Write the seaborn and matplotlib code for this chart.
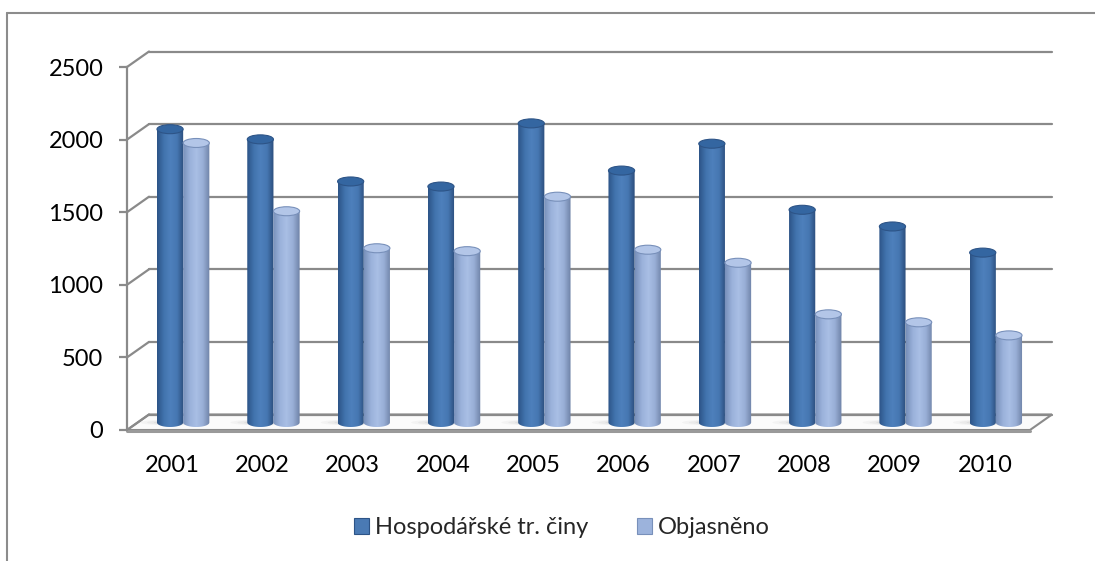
import numpy as np
import pandas as pd
import matplotlib
matplotlib.use("Agg")
import matplotlib.pyplot as plt
import matplotlib.transforms as mtransforms
from matplotlib.patches import Ellipse, Polygon, Patch
from matplotlib.path import Path
from matplotlib.lines import Line2D
import seaborn as sns

# values
years = ['2001', '2002', '2003', '2004', '2005', '2006', '2007', '2008', '2009', '2010']
hospodarske = [2020, 1950, 1660, 1625, 2060, 1735, 1920, 1465, 1350, 1170]
objasneno = [1925, 1455, 1200, 1180, 1555, 1190, 1100, 745, 690, 600]
series = ['Hospodářské tr. činy', 'Objasněno']
yticks = [0, 500, 1000, 1500, 2000, 2500]

df = pd.DataFrame({
    'rok': years * 2,
    'pocet': hospodarske + objasneno,
    'serie': [series[0]] * len(years) + [series[1]] * len(years),
})

sns.set_theme(style='white')
plt.rcParams['font.family'] = ['Lato', 'DejaVu Sans']

W, H = 1095, 561
fig = plt.figure(figsize=(W / 100, H / 100), dpi=100)
ax = fig.add_axes([127 / W, 1 - 430 / H, (1030 - 127) / W, (430 - 67) / H])

dark = '#4a7ab4'
light = '#9cb3dc'
sns.barplot(data=df, x='rok', y='pocet', hue='serie', palette=[dark, light],
            width=0.58, gap=0, legend=False, ax=ax, zorder=3)
bars = list(ax.patches)
ax.set_xlim(-0.5, 9.5)
ax.set_ylim(0, 2500)

# 3d look: bars stand in the middle of the floor, back wall further back
ppi = fig.dpi
mid_off = mtransforms.ScaledTranslation(11 / ppi, 7.5 / ppi, fig.dpi_scale_trans)
back_off = mtransforms.ScaledTranslation(22 / ppi, 15.5 / ppi, fig.dpi_scale_trans)
bar_tr = ax.transData + mid_off
back_tr = ax.transData + back_off

def disp(x, y, dx=0, dy=0):
    px, py = ax.transData.transform((x, y))
    return px + dx, py + dy

ident = mtransforms.IdentityTransform()
grid_c = '#8a8a8a'

# floor
fl = [disp(-0.5, 0), disp(9.5, 0), disp(9.5, 0, 22, 15.5), disp(-0.5, 0, 22, 15.5)]
ax.add_patch(Polygon(fl, closed=True, transform=ident, facecolor='#fbfbfb',
                     edgecolor=grid_c, lw=1.5, zorder=1, clip_on=False))
a, b = disp(-0.5, 0), disp(9.5, 0)
ax.plot([a[0], b[0]], [a[1] - 1, b[1] - 1], color='#9a9a9a', lw=2.2,
        transform=ident, zorder=1.2, clip_on=False)

# soft shadows on the floor, to the left of each pair of bars
for k in range(len(years)):
    for j, al in enumerate([0.05, 0.06, 0.08]):
        ax.add_patch(Ellipse((k - 0.1, 0), 0.75 - 0.15 * j, 40 - 8 * j,
                             transform=bar_tr, facecolor='#606060', alpha=al,
                             edgecolor='none', zorder=1.5, clip_on=False))

# back wall gridlines with diagonals to the front axis
for v in yticks:
    ax.plot([-0.5, 9.5], [v, v], color=grid_c, lw=1.6, transform=back_tr,
            zorder=1, clip_on=False)
    a = disp(-0.5, v)
    b = disp(-0.5, v, 22, 15.5)
    ax.plot([a[0], b[0]], [a[1], b[1]], color=grid_c, lw=1.6, transform=ident,
            zorder=1, clip_on=False)

# cylinders
grad_dark = ['#2d5487', '#4173ad', '#4e80bc', '#4677b2', '#2c4e7c']
grad_light = ['#7890ba', '#9ab1da', '#a9bfe5', '#98aed6', '#6f82a7']
cap_dark = '#3466a1'
cap_light = '#b3c6e8'
cap_h = 9 * 2500 / 363

for i, p in enumerate(bars):
    x0, w, h = p.get_x(), p.get_width(), p.get_height()
    is_dark = i < len(years)
    cols = grad_dark if is_dark else grad_light
    p.set_visible(False)
    # outline of the cylinder: straight sides and a rounded bottom
    t = np.linspace(np.pi, 2 * np.pi, 30)
    bx = x0 + w / 2 + np.cos(t) * w / 2
    by = np.sin(t) * cap_h / 2
    verts = [(x0, h)] + list(zip(bx, by)) + [(x0 + w, h), (x0, h)]
    clip = Path(verts, closed=True)
    cmap = matplotlib.colors.LinearSegmentedColormap.from_list('g', cols)
    im = ax.imshow(np.linspace(0, 1, 64).reshape(1, -1), cmap=cmap, aspect='auto',
                   extent=[x0, x0 + w, -cap_h / 2, h], zorder=3,
                   interpolation='bilinear')
    im.set_transform(bar_tr)
    im.set_clip_path(clip, bar_tr)
    # top cap
    ax.add_patch(Ellipse((x0 + w / 2, h), w, cap_h, transform=bar_tr,
                         facecolor=cap_dark if is_dark else cap_light,
                         edgecolor=cols[0], lw=0.8, zorder=4, clip_on=False))

ax.set_xlim(-0.5, 9.5)
ax.set_ylim(0, 2500)

# axes look
for s in ['top', 'right', 'bottom']:
    ax.spines[s].set_visible(False)
ax.spines['left'].set_color(grid_c)
ax.spines['left'].set_linewidth(1.6)
ax.set_yticks(yticks)
ax.set_yticklabels([str(v) for v in yticks])
ax.tick_params(axis='y', length=6, width=1.6, color=grid_c, pad=11, labelsize=17,
               labelcolor='black', left=True)
ax.tick_params(axis='x', length=0, pad=18, labelsize=17, labelcolor='black')
ax.set_xlabel('')
ax.set_ylabel('')
ax.grid(False)
ax.patch.set_visible(False)

# legend
handles = [Patch(facecolor=dark, edgecolor='#2d5487', lw=0.8),
           Patch(facecolor=light, edgecolor='#7890ba', lw=0.8)]
fig.legend(handles, series, loc='center', bbox_to_anchor=(562 / W, 1 - 528 / H),
           ncol=2, frameon=False, fontsize=17, handlelength=0.65, handleheight=0.65,
           handletextpad=0.25, columnspacing=2.05)

# chart frame (only left and top visible in the crop)
fig.add_artist(Line2D([7 / W, 7 / W], [0, 1 - 13 / H], color='#8c8c8c', lw=1.5,
                      transform=fig.transFigure))
fig.add_artist(Line2D([7 / W, 1], [1 - 13 / H, 1 - 13 / H], color='#8c8c8c', lw=1.5,
                      transform=fig.transFigure))

fig.savefig('out.png', dpi=100)
